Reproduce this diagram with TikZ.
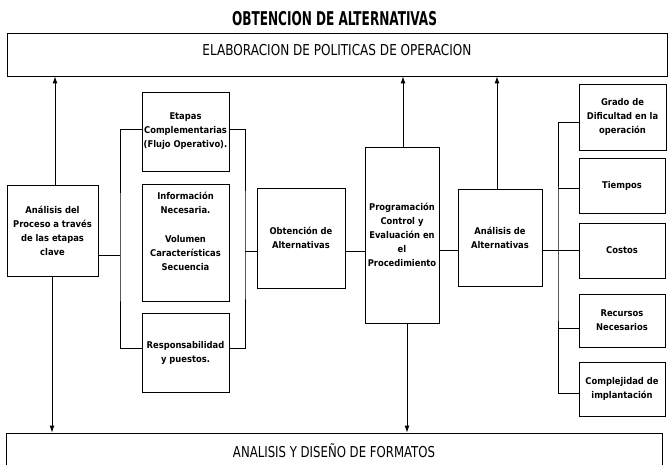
\documentclass[tikz,border=0pt]{standalone}
\usepackage{graphicx}
\usepackage{fontspec}
\newfontfamily\condfont{DejaVu Sans Condensed}
\usetikzlibrary{arrows.meta}
\newcommand\boxfont{\condfont\bfseries\fontsize{9.3}{14}\selectfont}
\begin{document}
\begin{tikzpicture}[x=1pt,y=-1pt,
  box/.style={draw, line width=0.9pt, inner sep=0pt, align=center, font=\boxfont},
  wire/.style={line width=0.9pt},
  arr/.style={wire, -{Latex[length=7pt,width=5pt]}},
]
\useasboundingbox (0,0) rectangle (670,465);

% title
\node (title) at (334.5,19) {\resizebox{205pt}{\height}{\condfont\bfseries\fontsize{19}{19}\selectfont OBTENCION DE ALTERNATIVAS}};

% wide bands
\node[box, minimum width=660pt, minimum height=43pt,
  label={[yshift=4pt]center:\resizebox{269pt}{\height}{\condfont\fontsize{15}{15}\selectfont ELABORACION DE POLITICAS DE OPERACION}}]
  (top) at (337,54.5) {};
\node[box, minimum width=656pt, minimum height=35pt] (bottom) at (334,450.5)
  {\resizebox{202pt}{\height}{\condfont\mdseries\fontsize{15}{15}\selectfont ANALISIS Y DISEÑO DE FORMATOS}};

% process boxes
\node[box, minimum width=91pt, minimum height=91pt] (A) at (52.5,230.5)
  {Análisis del\\Proceso a través\\de las etapas\\clave};
\node[box, minimum width=87pt, minimum height=79pt] (B1) at (185.5,131.5)
  {Etapas\\Complementarias\\(Flujo Operativo).};
\node[box, minimum width=87pt, minimum height=117pt,
  label={[yshift=11pt, align=center, font=\boxfont]center:Información\\Necesaria.\\[15pt]Volumen\\Características\\Secuencia}]
  (B2) at (185.5,242.5) {};
\node[box, minimum width=87pt, minimum height=79pt] (B3) at (185.5,352.5)
  {Responsabilidad\\y puestos.};
\node[box, minimum width=88pt, minimum height=100pt] (O) at (301,238)
  {Obtención de\\Alternativas};
\node[box, minimum width=74pt, minimum height=176pt] (P) at (402,235)
  {Programación\\Control y\\Evaluación en\\el\\Procedimiento};
\node[box, minimum width=84pt, minimum height=97pt] (AA) at (500,237.5)
  {Análisis de\\Alternativas};

% criteria column
\node[box, minimum width=87pt, minimum height=66pt] (R1) at (622.5,117)
  {Grado de\\Dificultad en la\\operación};
\node[box, minimum width=86pt, minimum height=55pt] (R2) at (622,185.5) {Tiempos};
\node[box, minimum width=86pt, minimum height=55pt] (R3) at (622,250.5) {Costos};
\node[box, minimum width=86pt, minimum height=53pt] (R4) at (622,320.5)
  {Recursos\\Necesarios};
\node[box, minimum width=86pt, minimum height=54pt] (R5) at (622,389)
  {Complejidad de\\implantación};

% bracket joints
\coordinate (LB) at (120,255);
\coordinate (RB) at (245,251);
\coordinate (CB) at (558,250);

% left bracket around the middle column
\draw[wire] (A.east |- LB) -- (LB);
\draw[wire] (B1.west |- 0,129) -| (LB) |- (B3.west |- 0,348);
% right bracket around the middle column
\draw[wire] (B1.east |- 0,129) -| (RB) |- (B3.east |- 0,348);
\draw[wire] (RB) -- (O.west |- RB);

% main chain
\draw[wire] (O.east |- 0,251) -- (P.west |- 0,251);
\draw[wire] (P.east |- 0,250) -- (AA.west |- 0,250);
\draw[wire] (AA.east |- CB) -- (R3.west |- CB);

% bracket to the criteria column
\draw[wire] (R1.west |- 0,122) -| (CB) |- (R5.west |- 0,393);
\draw[wire] (CB |- 0,188) -- (R2.west |- 0,188);
\draw[wire] (CB |- 0,328) -- (R4.west |- 0,328);

% arrows to the bands
\draw[arr] (A.north -| 55,0) -- (top.south -| 55,0);
\draw[arr] (A.south -| 52,0) -- (bottom.north -| 52,0);
\draw[arr] (P.north -| 403,0) -- (top.south -| 403,0);
\draw[arr] (P.south -| 407,0) -- (bottom.north -| 407,0);
\draw[arr] (AA.north -| 497,0) -- (top.south -| 497,0);
\end{tikzpicture}
\end{document}
